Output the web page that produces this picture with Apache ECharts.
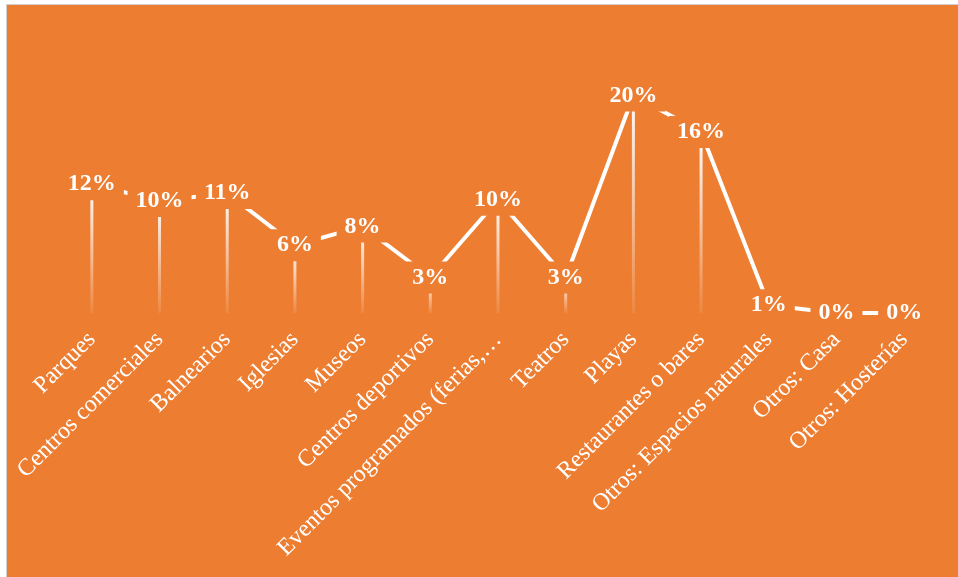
<!DOCTYPE html>
<html>
<head>
<meta charset="utf-8">
<script src="https://cdn.jsdelivr.net/npm/echarts@6/dist/echarts.min.js"></script>
<style>
  html, body { margin: 0; padding: 0; background: #ffffff; }
  #chart {
    position: absolute; left: 6px; top: 4px;
    width: 951px; height: 572px;
    border-left: 1px solid #d0d0d0; border-top: 1px solid #d0d0d0;
  }
</style>
</head>
<body>
<div id="chart"></div>
<script>
var categories = ["Parques", "Centros comerciales", "Balnearios", "Iglesias", "Museos",
  "Centros deportivos", "Eventos programados (ferias,…", "Teatros", "Playas",
  "Restaurantes o bares", "Otros: Espacios naturales", "Otros: Casa", "Otros: Hosterías"];
// porcentaje estimado de la imagen
var values = [11.6, 10.1, 10.8, 6.1, 7.8, 3.2, 10.2, 3.2, 19.6, 16.3, 0.7, 0, 0];

var orange = "#ED7D31";
var chart = echarts.init(document.getElementById("chart"));
var option = {
  backgroundColor: orange,
  animation: false,
  grid: { left: 51, right: 20, top: 86, bottom: 264 },
  xAxis: {
    type: "category",
    data: categories,
    boundaryGap: true,
    axisLine: { show: false },
    axisTick: { show: false },
    axisLabel: {
      interval: 0,
      rotate: 45,
      margin: 23,
      color: "#ffffff",
      fontFamily: "Liberation Serif",
      fontSize: 24
    }
  },
  yAxis: {
    type: "value",
    min: 0,
    max: 20,
    show: false,
    splitLine: { show: false }
  },
  series: [{
    type: "bar",
    z: 2,
    barWidth: 3,
    data: values,
    itemStyle: {
      color: new echarts.graphic.LinearGradient(0, 0, 0, 1, [
        { offset: 0, color: "rgba(255,255,255,1)" },
        { offset: 1, color: "rgba(255,255,255,0.08)" }
      ])
    }
  }, {
    type: "line",
    z: 3,
    data: values,
    symbol: "circle",
    symbolSize: 1,
    itemStyle: { color: "#ffffff" },
    lineStyle: { color: "#ffffff", width: 4 },
    label: {
      show: true,
      position: "inside",
      color: "#ffffff",
      fontFamily: "Liberation Serif",
      fontWeight: "bold",
      fontSize: 24,
      backgroundColor: orange,
      padding: [4, 8],
      formatter: function (p) { return Math.round(p.value) + "%"; }
    }
  }]
};
chart.setOption(option);
</script>
</body>
</html>
